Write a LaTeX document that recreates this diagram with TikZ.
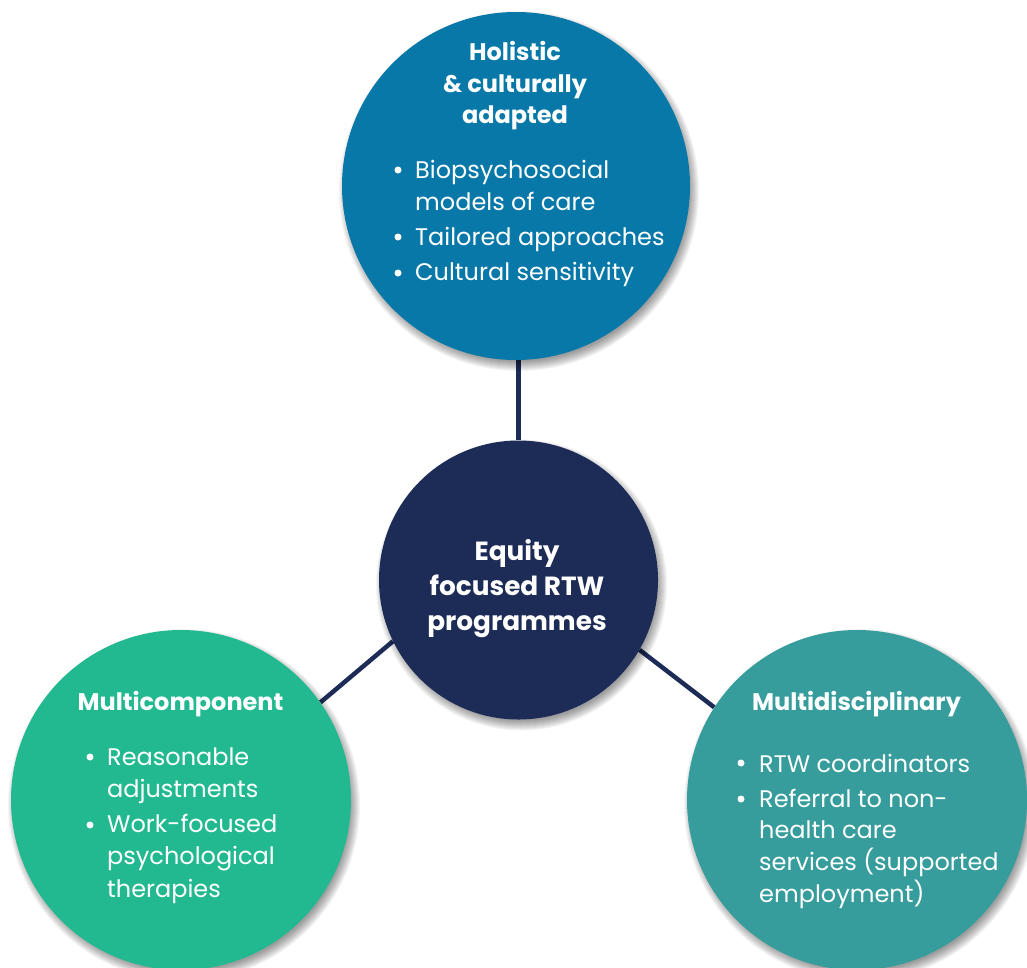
\documentclass[tikz,border=0pt]{standalone}
\usepackage{fontspec}
\setmainfont{Poppins}
\definecolor{navy}{HTML}{1D2B57}
\definecolor{holblue}{HTML}{0778A8}
\definecolor{mcgreen}{HTML}{22B990}
\definecolor{mdteal}{HTML}{369C9C}
\begin{document}
\begin{tikzpicture}[x=1pt,y=-1pt,
  bubble/.style={circle, inner sep=0pt, minimum size=#1},
  link/.style={draw=navy, line width=4.5pt},
  head/.style={font=\bfseries\fontsize{24}{30}\selectfont, text=white, inner sep=0pt, anchor=base},
  hubtext/.style={font=\bfseries\fontsize{26.3}{30}\selectfont, text=white, inner sep=0pt, anchor=base},
  body/.style={font=\fontsize{24}{30}\selectfont, text=white, inner sep=0pt, anchor=base west},
  dot/.style={fill=white}]
\useasboundingbox (0,0) rectangle (1027,967);

% bubble geometry (centre x / centre y / radius)
\coordinate (pT) at (516,186);
\coordinate (pC) at (518.5,580);
\coordinate (pL) at (181,800);
\coordinate (pR) at (857,800);

% invisible bubble outlines used as connector targets
\node[bubble=348pt] (top) at (pT) {};
\node[bubble=279pt] (hub) at (pC) {};
\node[bubble=340pt] (lft) at (pL) {};
\node[bubble=340pt] (rgt) at (pR) {};

% connectors
\draw[link] (hub.north) -- (hub.north |- top.south);
\draw[link] (hub.206) -- (lft.35.5);
\draw[link] (hub.330.5) -- (rgt.147.4);

% soft drop shadows
\foreach \cx/\cy/\r in {516/186/174, 518.5/580/139.5, 181/800/170, 857/800/170}{
  \foreach \k in {1,...,11}{
    \fill[black, opacity=0.045] (\cx+3,\cy+5) circle ({\r-5+\k});
  }
}

% bubbles
\fill[holblue] (pT) circle (174);
\fill[navy]    (pC) circle (139.5);
\fill[mcgreen] (pL) circle (170);
\fill[mdteal]  (pR) circle (170);

% top bubble
\node[head] (tH1) at (515,60)  {Holistic};
\node[head] (tH2) at (515,92)  {\& culturally};
\node[head] (tH3) at (515,123) {adapted};
\fill[dot] (398,170) circle (3.5);
\fill[dot] (398,237) circle (3.5);
\fill[dot] (398,273) circle (3.5);
\node[body] (tB1) at (415,178) {Biopsychosocial};
\node[body] (tB2) at (415,210) {models of care};
\node[body] (tB3) at (415,245) {Tailored approaches};
\node[body] (tB4) at (415,280) {Cultural sensitivity};

% central bubble
\node[hubtext] (cH1) at (517,560) {Equity};
\node[hubtext] (cH2) at (517,595) {focused RTW};
\node[hubtext] (cH3) at (517,630) {programmes};

% left bubble
\node[head] (lH1) at (180.5,710) {Multicomponent};
\fill[dot] (90,757) circle (3.5);
\fill[dot] (90,825) circle (3.5);
\node[body] (lB1) at (107,765) {Reasonable};
\node[body] (lB2) at (107,797) {adjustments};
\node[body] (lB3) at (107,832) {Work-focused};
\node[body] (lB4) at (107,864) {psychological};
\node[body] (lB5) at (107,897) {therapies};

% right bubble
\node[head] (rH1) at (856.5,710) {Multidisciplinary};
\fill[dot] (741,763) circle (3.5);
\fill[dot] (741,799) circle (3.5);
\node[body] (rB1) at (759,772) {RTW coordinators};
\node[body] (rB2) at (759,807) {Referral to non-};
\node[body] (rB3) at (759,838) {health care};
\node[body] (rB4) at (759,870) {services (supported};
\node[body] (rB5) at (759,902) {employment)};
\end{tikzpicture}
\end{document}
